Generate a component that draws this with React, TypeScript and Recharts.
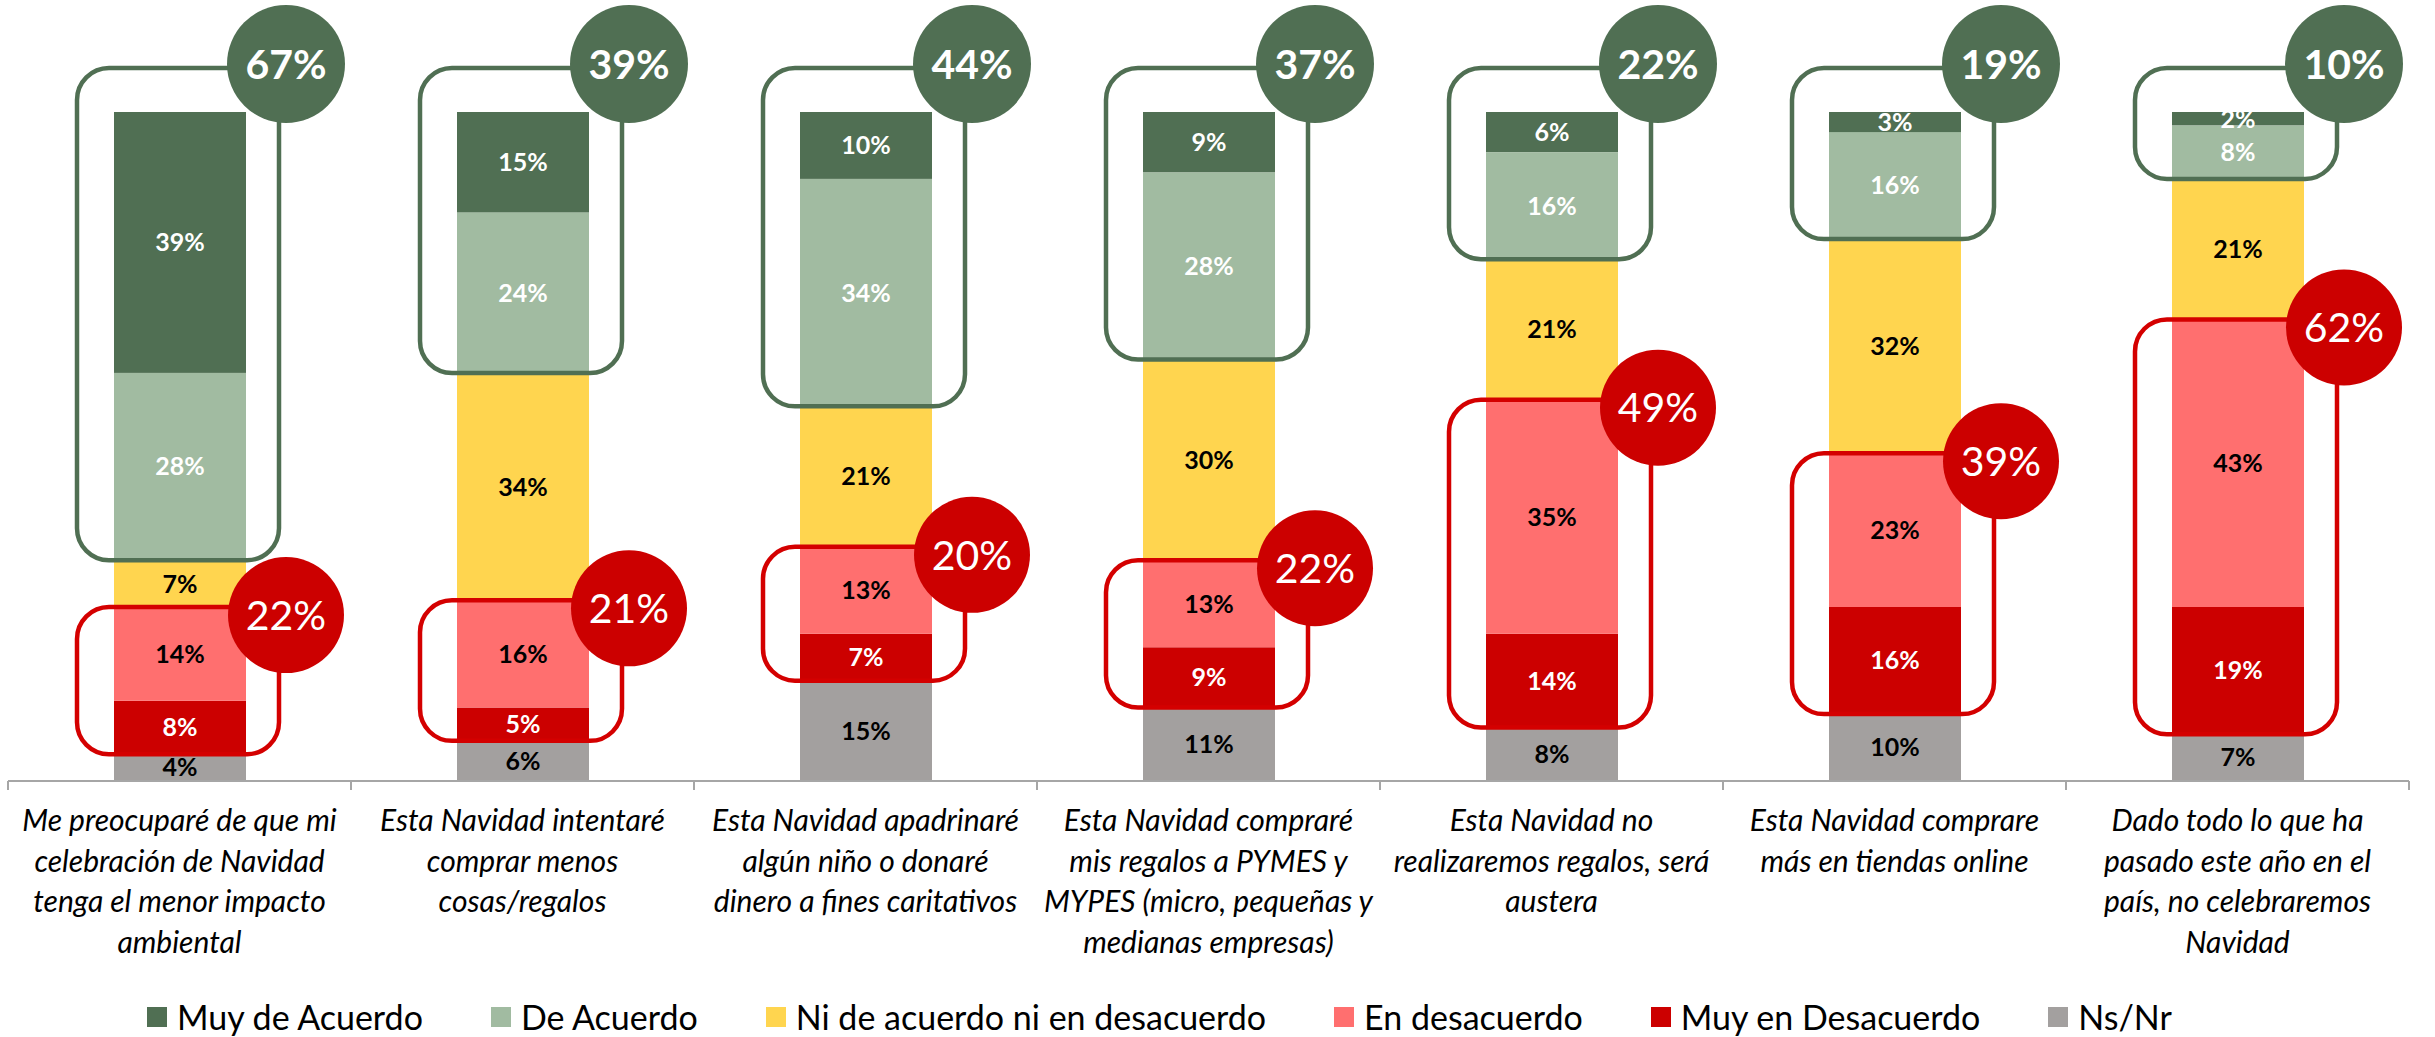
import React from 'react';
import { BarChart, Bar, XAxis, YAxis, LabelList } from 'recharts';

// category labels, already broken into lines as in the original slide
const categoryLines: string[][] = [
  ['Me preocuparé de que mi', 'celebración de Navidad', 'tenga el menor impacto', 'ambiental'],
  ['Esta Navidad intentaré', 'comprar menos', 'cosas/regalos'],
  ['Esta Navidad apadrinaré', 'algún niño o donaré', 'dinero a fines caritativos'],
  ['Esta Navidad compraré', 'mis regalos a PYMES y', 'MYPES (micro, pequeñas y', 'medianas empresas)'],
  ['Esta Navidad no', 'realizaremos regalos, será', 'austera'],
  ['Esta Navidad comprare', 'más en tiendas online'],
  ['Dado todo lo que ha', 'pasado este año en el', 'país, no celebraremos', 'Navidad'],
];
const categories = categoryLines.map(l => l.join(' '));

const muyDeAcuerdo = [39, 15, 10, 9, 6, 3, 2];
const deAcuerdo = [28, 24, 34, 28, 16, 16, 8];
const niNi = [7, 34, 21, 30, 21, 32, 21];
const enDesacuerdo = [14, 16, 13, 13, 35, 23, 43];
const muyEnDesacuerdo = [8, 5, 7, 9, 14, 16, 19];
const nsNr = [4, 6, 15, 11, 8, 10, 7];

// totals shown in the circles
const totalAcuerdo = [67, 39, 44, 37, 22, 19, 10];
const totalDesacuerdo = [22, 21, 20, 22, 49, 39, 62];

const legendNames = ['Muy de Acuerdo', 'De Acuerdo', 'Ni de acuerdo ni en desacuerdo', 'En desacuerdo', 'Muy en Desacuerdo', 'Ns/Nr'];
const legendColors = ['#506F53', '#A1BBA1', '#FFD54F', '#FF6F6F', '#CC0000', '#A3A09F'];

const GREEN = '#506F53';
const RED = '#CC0000';
const FONT = 'Lato, "Open Sans", sans-serif';

const data = categories.map((name, i) => ({
  name,
  muyAcuerdo: muyDeAcuerdo[i],
  acuerdo: deAcuerdo[i],
  neutral: niNi[i],
  desacuerdo: enDesacuerdo[i],
  muyDesacuerdo: muyEnDesacuerdo[i],
  nsnr: nsNr[i],
}));

const pct = (v: any) => `${v}%`;

// top segment also draws the green / red group boxes and total bubbles
const TopSegment = (props: any) => {
  const { x, y, width, height, fill } = props;
  const i = props.index ?? categories.indexOf(props.payload?.name);
  if (i < 0 || !height) return null;
  const ppu = height / muyDeAcuerdo[i];
  const base = y + (muyDeAcuerdo[i] + deAcuerdo[i] + niNi[i] + enDesacuerdo[i] + muyEnDesacuerdo[i] + nsNr[i]) * ppu;

  const boxX = x - 37;
  const boxW = width + 70;
  const gTop = y - 44;
  const gBottom = y + (muyDeAcuerdo[i] + deAcuerdo[i]) * ppu;
  const rTop = base - (nsNr[i] + muyEnDesacuerdo[i] + enDesacuerdo[i]) * ppu;
  const rBottom = base - nsNr[i] * ppu;
  const cx = x + width / 2 + 106;

  return (
    <g>
      <rect x={x} y={y} width={width} height={height} fill={fill} />
      <rect x={boxX} y={gTop} width={boxW} height={gBottom - gTop} rx={32} ry={32} fill="none" stroke={GREEN} strokeWidth={4.5} />
      <rect x={boxX} y={rTop} width={boxW} height={rBottom - rTop} rx={32} ry={32} fill="none" stroke="#D40000" strokeWidth={4.5} />
      <circle cx={cx} cy={gTop - 4} r={59} fill={GREEN} />
      <text x={cx} y={gTop - 4} dy="0.36em" textAnchor="middle" fill="#fff" fontFamily={FONT} fontWeight={700} fontSize={41}>
        {totalAcuerdo[i]}%
      </text>
      <circle cx={cx} cy={rTop + 8} r={58} fill={RED} />
      <text x={cx} y={rTop + 8} dy="0.36em" textAnchor="middle" fill="#fff" fontFamily={FONT} fontWeight={400} fontSize={41}>
        {totalDesacuerdo[i]}%
      </text>
    </g>
  );
};

const CategoryTick = (props: any) => {
  const { x, y, payload } = props;
  const idx = payload?.index ?? props.index ?? 0;
  const half = payload?.offset || 171.5;
  const lines = categoryLines[idx] || [];
  return (
    <g>
      <line x1={x - half} x2={x - half} y1={y} y2={y + 9} stroke="#A6A6A6" strokeWidth={2} />
      {idx === categoryLines.length - 1 && (
        <line x1={x + half} x2={x + half} y1={y} y2={y + 9} stroke="#A6A6A6" strokeWidth={2} />
      )}
      <text x={x} y={y + 50} textAnchor="middle" fontFamily={FONT} fontStyle="italic" fontSize={30} fill="#000">
        {lines.map((l, k) => (
          <tspan key={k} x={x} dy={k === 0 ? 0 : 40.5}>{l}</tspan>
        ))}
      </text>
    </g>
  );
};

const segLabel = (color: string) => ({
  position: 'center' as const,
  fill: color,
  fontSize: 25,
  fontWeight: 700,
  fontFamily: FONT,
  formatter: pct,
});

export default function App() {
  return (
    <div style={{ position: 'absolute', left: 0, top: 0, width: 2435, height: 1037, background: '#fff' }}>
      <BarChart
        width={2435}
        height={1037}
        data={data}
        margin={{ top: 112, right: 26, bottom: 0, left: 8 }}
        barSize={132}
      >
        <XAxis
          dataKey="name"
          height={256}
          interval={0}
          tickSize={0}
          tickMargin={0}
          tickLine={false}
          axisLine={{ stroke: '#A6A6A6', strokeWidth: 2 }}
          tick={<CategoryTick />}
        />
        <YAxis hide domain={[0, 100]} />
        <Bar dataKey="nsnr" stackId="a" fill="#A3A09F" isAnimationActive={false}>
          <LabelList dataKey="nsnr" {...segLabel('#000')} />
        </Bar>
        <Bar dataKey="muyDesacuerdo" stackId="a" fill="#CC0000" isAnimationActive={false}>
          <LabelList dataKey="muyDesacuerdo" {...segLabel('#fff')} />
        </Bar>
        <Bar dataKey="desacuerdo" stackId="a" fill="#FF6F6F" isAnimationActive={false}>
          <LabelList dataKey="desacuerdo" {...segLabel('#000')} />
        </Bar>
        <Bar dataKey="neutral" stackId="a" fill="#FFD54F" isAnimationActive={false}>
          <LabelList dataKey="neutral" {...segLabel('#000')} />
        </Bar>
        <Bar dataKey="acuerdo" stackId="a" fill="#A1BBA1" isAnimationActive={false}>
          <LabelList dataKey="acuerdo" {...segLabel('#fff')} />
        </Bar>
        <Bar dataKey="muyAcuerdo" stackId="a" fill="#506F53" shape={<TopSegment />} isAnimationActive={false}>
          <LabelList dataKey="muyAcuerdo" {...segLabel('#fff')} />
        </Bar>
      </BarChart>
      <div
        style={{
          position: 'absolute',
          left: 147,
          top: 999,
          display: 'flex',
          alignItems: 'center',
          fontFamily: FONT,
          fontSize: 34,
          lineHeight: '36px',
          whiteSpace: 'nowrap',
          color: '#000',
        }}
      >
        {legendNames.map((n, k) => (
          <div key={n} style={{ display: 'flex', alignItems: 'center', marginRight: 68 }}>
            <span style={{ width: 20, height: 20, background: legendColors[k], marginRight: 10, display: 'inline-block' }} />
            <span>{n}</span>
          </div>
        ))}
      </div>
    </div>
  );
}
